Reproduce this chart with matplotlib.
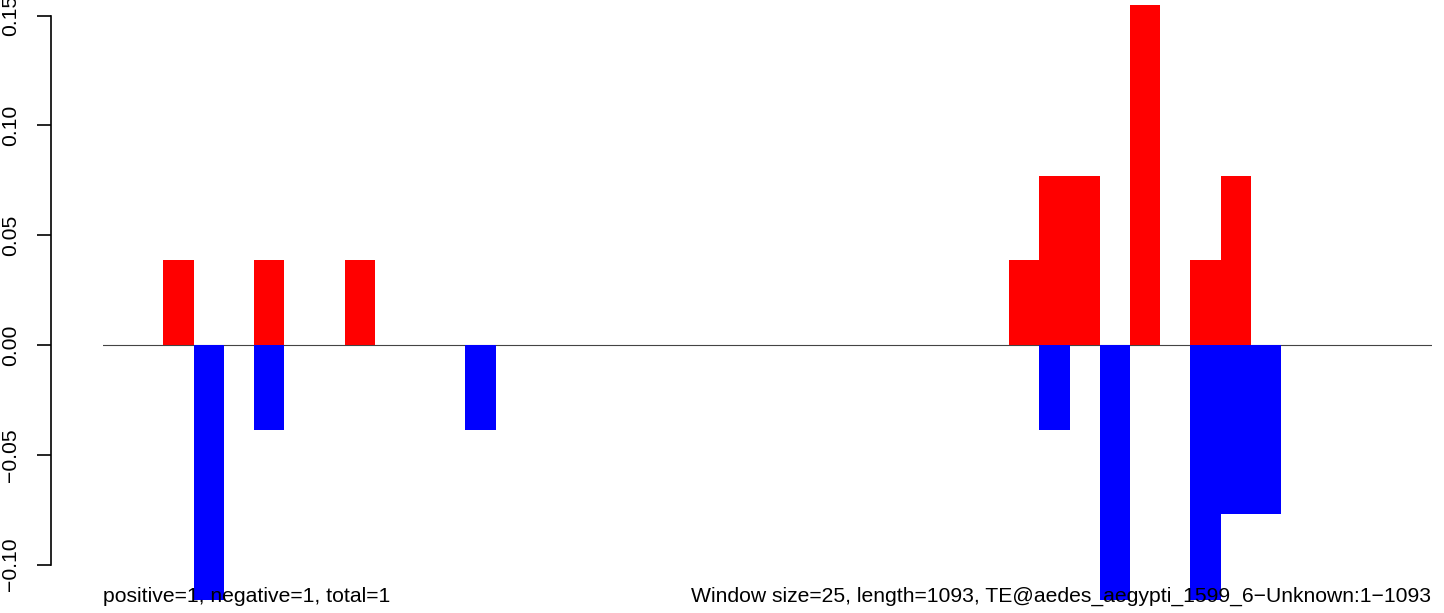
import matplotlib.pyplot as plt

plt.rcParams['font.family'] = ['Liberation Sans', 'DejaVu Sans']

# window index (25 bp windows over 1093 bp -> 44 windows)
n_windows = 44
pos_windows = [2, 5, 8, 30, 31, 32, 34, 36, 37]
pos_values = [0.0385, 0.0385, 0.0385, 0.0385, 0.077, 0.077, 0.155, 0.0385, 0.077]
neg_windows = [3, 5, 12, 31, 33, 36, 37, 38]
neg_values = [-0.116, -0.0385, -0.0385, -0.0385, -0.116, -0.116, -0.077, -0.077]

yticks = [-0.10, -0.05, 0.00, 0.05, 0.10, 0.15]
left_note = 'positive=1, negative=1, total=1'
right_note = 'Window size=25, length=1093, TE@aedes_aegypti_1599_6\u2212Unknown:1\u22121093'

W, H = 1444, 613
fig = plt.figure(figsize=(W / 100, H / 100), dpi=100)
ax = fig.add_axes([103 / W, 13 / H, (1432 - 103) / W, (600 - 4) / H])

ax.axhline(0, color='#444444', linewidth=0.8, zorder=1)
ax.bar(pos_windows, pos_values, width=1, align='edge', color='#FF0000', linewidth=0, zorder=2)
ax.bar(neg_windows, neg_values, width=1, align='edge', color='#0000FF', linewidth=0, zorder=2)

ax.set_xlim(0, n_windows)
ax.set_ylim(-0.1161, 0.1553)

for s in ['top', 'right', 'bottom']:
    ax.spines[s].set_visible(False)
# 52 px outward at 100 dpi
ax.spines['left'].set_position(('outward', 52 * 0.72))
ax.spines['left'].set_bounds(-0.10, 0.15)
ax.spines['left'].set_linewidth(1.2)
ax.set_xticks([])
ax.set_yticks(yticks)
ax.set_yticklabels(['\u22120.10', '\u22120.05', '0.00', '0.05', '0.10', '0.15'])
ax.tick_params(axis='y', length=10, width=1.2, pad=12, labelsize=15.2, labelrotation=90)
for lab in ax.get_yticklabels():
    lab.set_va('center')

fig.text(103 / W, 11 / H, left_note, fontsize=15.2, ha='left', va='baseline')
fig.text(1431 / W, 11 / H, right_note, fontsize=15.2, ha='right', va='baseline')

fig.savefig('out.png', dpi=100)
